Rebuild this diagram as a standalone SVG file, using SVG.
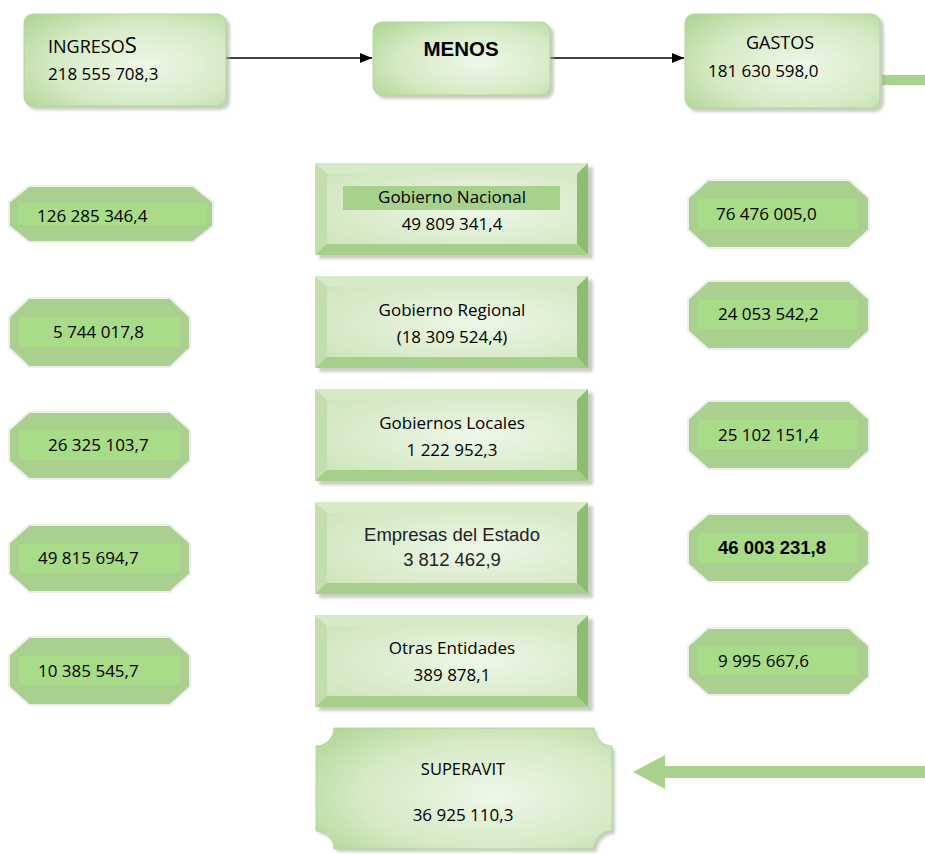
<svg xmlns="http://www.w3.org/2000/svg" width="925" height="854" viewBox="0 0 925 854">
<defs>
<style>
.t{font-family:"Open Sans","Noto Sans",sans-serif;font-size:17px;fill:#000}
.m{font-size:17px}
.c{text-anchor:middle}
.a{font-family:"Liberation Sans",Arial,sans-serif;fill:#222}
.oct{fill:#a9d08e;stroke:#eeeeee;stroke-width:2}
.in{fill:#a8dc88}
.shadow{fill:#9aa88f;opacity:0.55;filter:url(#blur)}
.face{fill:url(#gFace)}
.bt{fill:#d6eac8}
.bl{fill:#c3dfae}
.br{fill:#8dbd70}
.bb{fill:#a7cf8c}
.rbox{fill:url(#gTop);stroke:#b3d59b;stroke-width:1}
</style>
<filter id="blur" x="-10%" y="-10%" width="120%" height="130%"><feGaussianBlur stdDeviation="1.5"/></filter>
<radialGradient id="gTop" cx="0.6" cy="0.55" r="0.75">
<stop offset="0" stop-color="#eef7e8"/>
<stop offset="0.6" stop-color="#d5eac5"/>
<stop offset="1" stop-color="#b3d798"/>
</radialGradient>
<radialGradient id="gFace" cx="0.6" cy="0.5" r="0.8">
<stop offset="0" stop-color="#eef7e8"/>
<stop offset="1" stop-color="#cde5ba"/>
</radialGradient>
<marker id="ah" markerWidth="12" markerHeight="10" refX="12" refY="5" orient="auto" markerUnits="userSpaceOnUse">
<path d="M0,0 L12,5 L0,10 Z" fill="#000"/>
</marker>
</defs>

<g id="connectors">
<line x1="215" y1="58" x2="372" y2="58" stroke="#000" stroke-width="1.5" marker-end="url(#ah)"/>
<line x1="549" y1="58" x2="684" y2="58" stroke="#000" stroke-width="1.5" marker-end="url(#ah)"/>
<rect x="882" y="75" width="43" height="10" fill="#a9d18e"/>
<polygon points="925,766 665,766 665,755 633,772 665,789 665,778 925,778" fill="#a9d18e"/>
</g>

<g id="ingresos">
<rect class="shadow" x="27" y="17" width="203" height="93" rx="9"/>
<rect class="rbox" x="24" y="14" width="202" height="92" rx="9"/>
<text class="t" x="48" y="53" style="font-size:18px">INGRESO<tspan style="font-size:22px">S</tspan></text>
<text class="t" x="48" y="80">218 555 708,3</text>
</g>

<g id="menos">
<rect class="shadow" x="376" y="25" width="178" height="74" rx="9"/>
<rect class="rbox" x="373" y="22" width="177" height="73" rx="9"/>
<text class="a c" x="461" y="56" style="font-size:20.5px;font-weight:bold;fill:#000">MENOS</text>
</g>

<g id="gastos">
<rect class="shadow" x="688" y="17" width="196" height="95" rx="9"/>
<rect class="rbox" x="685" y="14" width="195" height="94" rx="9"/>
<text class="t c" x="780" y="49" style="font-size:18px">GASTOS</text>
<text class="t" x="708" y="77">181 630 598,0</text>
</g>

<g id="ing-1">
<polygon class="oct" points="29,186 193,186 213,202 213,226 193,242 29,242 9,226 9,202"/>
<rect class="in" x="18" y="203" width="189" height="22"/>
<text class="t" x="37" y="222">126 285 346,4</text>
</g>
<g id="ing-2">
<polygon class="oct" points="29,298 170,298 190,317 190,348 170,367 29,367 9,348 9,317"/>
<rect class="in" x="19" y="317" width="161" height="30"/>
<text class="t" x="53" y="338">5 744 017,8</text>
</g>
<g id="ing-3">
<polygon class="oct" points="29,412 170,412 190,430 190,461 170,479 29,479 9,461 9,430"/>
<rect class="in" x="19" y="430" width="161" height="30"/>
<text class="t" x="48" y="451">26 325 103,7</text>
</g>
<g id="ing-4">
<polygon class="oct" points="29,525 170,525 190,543 190,574 170,592 29,592 9,574 9,543"/>
<rect class="in" x="19" y="544" width="161" height="29"/>
<text class="t" x="38" y="564">49 815 694,7</text>
</g>
<g id="ing-5">
<polygon class="oct" points="29,637 170,637 190,655 190,687 170,705 29,705 9,687 9,655"/>
<rect class="in" x="19" y="656" width="161" height="29"/>
<text class="t" x="38" y="677">10 385 545,7</text>
</g>

<g id="gas-1">
<polygon class="oct" points="708,180 849,180 869,198 869,230 849,248 708,248 688,230 688,198"/>
<rect class="in" x="698" y="199" width="160" height="30"/>
<text class="t" x="716" y="220">76 476 005,0</text>
</g>
<g id="gas-2">
<polygon class="oct" points="708,281 849,281 869,299 869,331 849,349 708,349 688,331 688,299"/>
<rect class="in" x="698" y="300" width="160" height="29"/>
<text class="t" x="718" y="320">24 053 542,2</text>
</g>
<g id="gas-3">
<polygon class="oct" points="708,401 849,401 869,419 869,451 849,469 708,469 688,451 688,419"/>
<rect class="in" x="698" y="420" width="160" height="29"/>
<text class="t" x="718" y="441">25 102 151,4</text>
</g>
<g id="gas-4">
<polygon class="oct" points="708,514 849,514 869,532 869,564 849,582 708,582 688,564 688,532"/>
<rect class="in" x="698" y="533" width="160" height="30"/>
<text class="a" x="718" y="554" style="font-size:18.5px;font-weight:bold;fill:#000">46 003 231,8</text>
</g>
<g id="gas-5">
<polygon class="oct" points="708,628 849,628 869,646 869,677 849,695 708,695 688,677 688,646"/>
<rect class="in" x="698" y="646" width="160" height="29"/>
<text class="t" x="718" y="667">9 995 667,6</text>
</g>

<g id="gob-nacional">
<rect class="shadow" x="319" y="167" width="274" height="92"/>
<polygon class="bt" points="315,163 588,163 577,174 327,174"/>
<polygon class="bl" points="315,163 327,174 327,244 315,255"/>
<polygon class="br" points="588,163 588,255 577,244 577,174"/>
<polygon class="bb" points="315,255 327,244 577,244 588,255"/>
<rect class="face" x="327" y="174" width="250" height="70"/>
<rect x="343" y="186" width="217" height="24" fill="#a9d18e"/>
<text class="t c m" x="452" y="203">Gobierno Nacional</text>
<text class="t c m" x="452" y="230">49 809 341,4</text>
</g>

<g id="gob-regional">
<rect class="shadow" x="319" y="280" width="274" height="92"/>
<polygon class="bt" points="315,276 588,276 577,287 327,287"/>
<polygon class="bl" points="315,276 327,287 327,357 315,368"/>
<polygon class="br" points="588,276 588,368 577,357 577,287"/>
<polygon class="bb" points="315,368 327,357 577,357 588,368"/>
<rect class="face" x="327" y="287" width="250" height="70"/>
<text class="t c m" x="452" y="316">Gobierno Regional</text>
<text class="t c m" x="452" y="343">(18 309 524,4)</text>
</g>

<g id="gob-locales">
<rect class="shadow" x="319" y="393" width="274" height="92"/>
<polygon class="bt" points="315,389 588,389 577,400 327,400"/>
<polygon class="bl" points="315,389 327,400 327,470 315,481"/>
<polygon class="br" points="588,389 588,481 577,470 577,400"/>
<polygon class="bb" points="315,481 327,470 577,470 588,481"/>
<rect class="face" x="327" y="400" width="250" height="70"/>
<text class="t c m" x="452" y="429">Gobiernos Locales</text>
<text class="t c m" x="452" y="456">1 222 952,3</text>
</g>

<g id="empresas">
<rect class="shadow" x="319" y="506" width="274" height="92"/>
<polygon class="bt" points="315,502 588,502 577,513 327,513"/>
<polygon class="bl" points="315,502 327,513 327,583 315,594"/>
<polygon class="br" points="588,502 588,594 577,583 577,513"/>
<polygon class="bb" points="315,594 327,583 577,583 588,594"/>
<rect class="face" x="327" y="513" width="250" height="70"/>
<text class="a c" x="452" y="541" style="font-size:18.5px">Empresas del Estado</text>
<text class="a c" x="452" y="566" style="font-size:18.5px">3 812 462,9</text>
</g>

<g id="otras">
<rect class="shadow" x="319" y="619" width="274" height="92"/>
<polygon class="bt" points="315,615 588,615 577,626 327,626"/>
<polygon class="bl" points="315,615 327,626 327,696 315,707"/>
<polygon class="br" points="588,615 588,707 577,696 577,626"/>
<polygon class="bb" points="315,707 327,696 577,696 588,707"/>
<rect class="face" x="327" y="626" width="250" height="70"/>
<text class="t c m" x="452" y="654">Otras Entidades</text>
<text class="t c m" x="452" y="681">389 878,1</text>
</g>

<g id="superavit">
<path class="shadow" d="M337,731 L597,731 A18 18 0 0 0 615,749 L615,834 A18 18 0 0 0 597,852 L337,852 A18 18 0 0 0 319,834 L319,749 A18 18 0 0 0 337,731 Z"/>
<path d="M334,728 L594,728 A18 18 0 0 0 612,746 L612,831 A18 18 0 0 0 594,849 L334,849 A18 18 0 0 0 316,831 L316,746 A18 18 0 0 0 334,728 Z" fill="url(#gTop)" stroke="#b3d59b" stroke-width="1"/>
<text class="t c" x="463" y="775" style="font-size:16.5px">SUPERAVIT</text>
<text class="t c" x="463" y="821">36 925 110,3</text>
</g>
</svg>
